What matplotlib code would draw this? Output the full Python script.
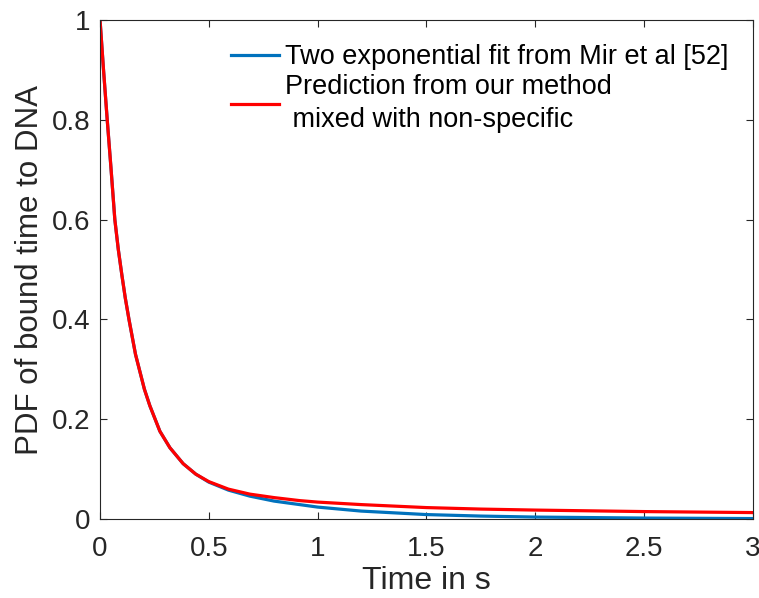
import numpy as np
import matplotlib
matplotlib.use("Agg")
import matplotlib.pyplot as plt

plt.rcParams['font.family'] = ['Liberation Sans', 'DejaVu Sans']

# values
t = [0, 0.016, 0.033, 0.05, 0.068, 0.084, 0.1, 0.116, 0.133, 0.163, 0.204,
     0.229, 0.275, 0.321, 0.382, 0.44, 0.5, 0.59, 0.688, 0.8, 0.917, 1.0,
     1.2, 1.5, 1.75, 2.0, 2.5, 3.0]
fit_mir = [1, 0.9, 0.8, 0.705, 0.6, 0.54, 0.49, 0.443, 0.4, 0.33, 0.26,
           0.227, 0.176, 0.143, 0.111, 0.090, 0.074, 0.058, 0.046, 0.036, 0.029,
           0.024, 0.016, 0.009, 0.006, 0.004, 0.002, 0.001]
pred_ours = [1, 0.9, 0.8, 0.705, 0.6, 0.54, 0.49, 0.443, 0.4, 0.33, 0.26,
             0.227, 0.176, 0.143, 0.111, 0.090, 0.075, 0.060, 0.050, 0.043, 0.037,
             0.034, 0.029, 0.023, 0.020, 0.018, 0.015, 0.013]

labels = ['Two exponential fit from Mir et al [52]',
          'Prediction from our method\n mixed with non-specific']
xticks = [0, 0.5, 1, 1.5, 2, 2.5, 3]
xticklabels = ['0', '0.5', '1', '1.5', '2', '2.5', '3']
yticks = [0, 0.2, 0.4, 0.6, 0.8, 1]
yticklabels = ['0', '0.2', '0.4', '0.6', '0.8', '1']

fig = plt.figure(figsize=(7.59, 5.98), dpi=100)
ax = fig.add_axes([0.1318, 0.132, 0.860, 0.8346])

ax.plot(t, fit_mir, color='#0072BD', lw=2.3, label=labels[0])
ax.plot(t, pred_ours, color='#FF0000', lw=2.3, label=labels[1])

ax.set_xlim(0, 3)
ax.set_ylim(0, 1)
ax.set_xticks(xticks)
ax.set_xticklabels(xticklabels)
ax.set_yticks(yticks)
ax.set_yticklabels(yticklabels)
ax.tick_params(direction='in', length=5, width=0.8, colors='#262626',
               labelsize=20, top=True, right=True)
ax.tick_params(axis='x', pad=12)
ax.tick_params(axis='y', pad=7)
for s in ax.spines.values():
    s.set_color('#262626')
    s.set_linewidth(0.8)

ax.set_xlabel('Time in s', fontsize=23, color='#262626', labelpad=3)
ax.set_ylabel('PDF of bound time to DNA', fontsize=22.5, color='#262626', labelpad=5)

leg = ax.legend(loc='upper right', frameon=False, fontsize=19.5,
                handlelength=1.75, handletextpad=0.22, borderaxespad=0,
                borderpad=0, labelspacing=0.15,
                bbox_to_anchor=(728 / 759, 1 - 44 / 598),
                bbox_transform=fig.transFigure)
for txt in leg.get_texts():
    txt.set_color('black')
    txt.set_linespacing(1.35)

fig.savefig('out.png', dpi=100)
